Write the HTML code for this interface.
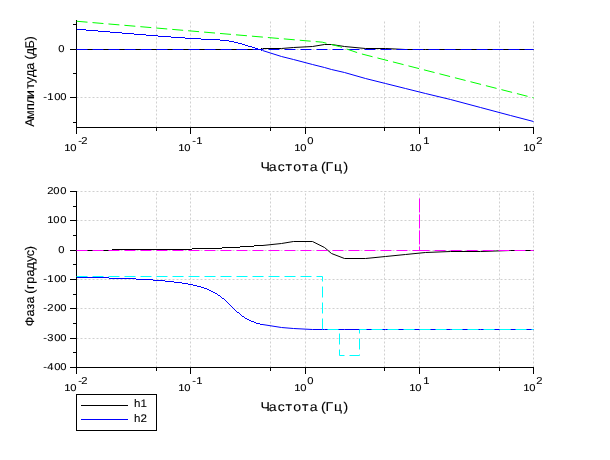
<!DOCTYPE html><html><head><meta charset="utf-8"><style>html,body{margin:0;padding:0;background:#fff;overflow:hidden}svg{display:block;will-change:transform}text{font-family:"Liberation Sans",sans-serif;text-rendering:geometricPrecision;stroke:#000;stroke-width:0.1px}</style></head><body>
<svg width="610" height="460" viewBox="0 0 610 460">
<rect width="610" height="460" fill="#fff"/>
<path d="M190.5,127.5V20M305.5,127.5V20M419.5,127.5V20M533.5,127.5V20M156.5,127.5V20M270.5,127.5V20M384.5,127.5V20M499.5,127.5V20M76.5,49.5H534M76.5,97.5H534" stroke="#d0d0d0" stroke-width="1" stroke-dasharray="2 2" fill="none"/>
<path d="M190.5,367.5V191M305.5,367.5V191M419.5,367.5V191M533.5,367.5V191M156.5,367.5V191M270.5,367.5V191M384.5,367.5V191M499.5,367.5V191M76.5,191.5H534M76.5,220.5H534M76.5,250.5H534M76.5,279.5H534M76.5,308.5H534M76.5,338.5H534" stroke="#d0d0d0" stroke-width="1" stroke-dasharray="2 2" fill="none"/>
<path d="M76.5,20V128M76,127.5H534M70,49.5H77M70,97.5H77M73,24.5H77M73,73.5H77M73,122.5H77M76.5,127V134M190.5,127V134M305.5,127V134M419.5,127V134M533.5,127V134M156.5,127V131M270.5,127V131M384.5,127V131M499.5,127V131" stroke="#000" stroke-width="1" fill="none" shape-rendering="crispEdges"/>
<path d="M76.5,191V368M76,367.5H534M70,191.5H77M70,220.5H77M70,250.5H77M70,279.5H77M70,308.5H77M70,338.5H77M70,367.5H77M73,206.5H77M73,235.5H77M73,264.5H77M73,294.5H77M73,323.5H77M73,352.5H77M76.5,367V374M190.5,367V374M305.5,367V374M419.5,367V374M533.5,367V374M156.5,367V371M270.5,367V371M384.5,367V371M499.5,367V371" stroke="#000" stroke-width="1" fill="none" shape-rendering="crispEdges"/>
<polyline points="76.50,49.50 77.50,49.50 78.50,49.50 79.50,49.50 80.50,49.50 81.50,49.50 82.50,49.50 83.50,49.50 84.50,49.50 85.50,49.50 86.50,49.50 87.50,49.50 88.50,49.50 89.50,49.50 90.50,49.50 91.50,49.50 92.50,49.50 93.50,49.50 94.50,49.50 95.50,49.50 96.50,49.50 97.50,49.50 98.50,49.50 99.50,49.50 100.50,49.50 101.50,49.50 102.50,49.50 103.50,49.50 104.50,49.50 105.50,49.50 106.50,49.50 107.50,49.50 108.50,49.50 109.50,49.50 110.50,49.50 111.50,49.50 112.50,49.50 113.50,49.50 114.50,49.50 115.50,49.50 116.50,49.50 117.50,49.50 118.50,49.50 119.50,49.50 120.50,49.50 121.50,49.50 122.50,49.50 123.50,49.50 124.50,49.50 125.50,49.50 126.50,49.50 127.50,49.50 128.50,49.50 129.50,49.50 130.50,49.50 131.50,49.50 132.50,49.50 133.50,49.50 134.50,49.50 135.50,49.50 136.50,49.50 137.50,49.50 138.50,49.50 139.50,49.50 140.50,49.50 141.50,49.50 142.50,49.50 143.50,49.50 144.50,49.50 145.50,49.50 146.50,49.50 147.50,49.50 148.50,49.50 149.50,49.50 150.50,49.50 151.50,49.50 152.50,49.50 153.50,49.50 154.50,49.50 155.50,49.50 156.50,49.50 157.50,49.50 158.50,49.50 159.50,49.50 160.50,49.50 161.50,49.50 162.50,49.50 163.50,49.50 164.50,49.50 165.50,49.50 166.50,49.50 167.50,49.50 168.50,49.50 169.50,49.50 170.50,49.50 171.50,49.50 172.50,49.50 173.50,49.50 174.50,49.50 175.50,49.50 176.50,49.50 177.50,49.50 178.50,49.50 179.50,49.50 180.50,49.50 181.50,49.50 182.50,49.50 183.50,49.50 184.50,49.50 185.50,49.50 186.50,49.50 187.50,49.50 188.50,49.50 189.50,49.50 190.50,49.50 191.50,49.50 192.50,49.50 193.50,49.50 194.50,49.50 195.50,49.50 196.50,49.50 197.50,49.50 198.50,49.50 199.50,49.50 200.50,49.50 201.50,49.50 202.50,49.50 203.50,49.50 204.50,49.50 205.50,49.50 206.50,49.50 207.50,49.50 208.50,49.50 209.50,49.50 210.50,49.50 211.50,49.50 212.50,49.50 213.50,49.50 214.50,49.50 215.50,49.50 216.50,49.50 217.50,49.50 218.50,49.50 219.50,49.50 220.50,49.50 221.50,49.50 222.50,49.50 223.50,49.50 224.50,49.50 225.50,49.50 226.50,49.50 227.50,49.50 228.50,49.50 229.50,49.50 230.50,49.50 231.50,49.50 232.50,49.50 233.50,49.50 234.50,49.50 235.50,49.50 236.50,49.50 237.50,49.50 238.50,49.50 239.50,49.50 240.50,49.50 241.50,49.50 242.50,49.50 243.50,49.50 244.50,49.50 245.50,49.50 246.50,49.50 247.50,49.50 248.50,49.50 249.50,49.50 250.50,49.50 251.50,49.50 252.50,49.50 253.50,49.50 254.50,49.50 255.50,49.50 256.50,49.50 257.50,49.50 258.50,49.50 259.50,49.50 260.50,49.50 262.50,48.50" stroke="#000" stroke-width="1" fill="none" shape-rendering="crispEdges"/>
<polyline points="262.50,48.50 281.50,48.50 293.50,47.50 312.50,46.50 324.50,44.50 331.50,44.50 344.50,46.50 365.50,48.50 385.50,48.50 405.50,49.50 425.50,49.50 450.50,49.50 480.50,49.50 510.50,49.50 533.50,49.50" stroke="#000" stroke-width="1" fill="none"/>
<polyline points="76.50,29.50 77.50,29.50 78.50,29.50 79.50,29.50 80.50,29.50 81.50,29.50 82.50,29.50 83.50,29.50 84.50,29.50 85.50,29.50 86.50,30.50 87.50,30.50 88.50,30.50 89.50,30.50 90.50,30.50 91.50,30.50 92.50,30.50 93.50,30.50 94.50,30.50 95.50,30.50 96.50,30.50 97.50,30.50 98.50,31.50 99.50,31.50 100.50,31.50 101.50,31.50 102.50,31.50 103.50,31.50 104.50,31.50 105.50,31.50 106.50,31.50 107.50,31.50 108.50,31.50 109.50,31.50 110.50,32.50 111.50,32.50 112.50,32.50 113.50,32.50 114.50,32.50 115.50,32.50 116.50,32.50 117.50,32.50 118.50,32.50 119.50,32.50 120.50,32.50 121.50,32.50 122.50,33.50 123.50,33.50 124.50,33.50 125.50,33.50 126.50,33.50 127.50,33.50 128.50,33.50 129.50,33.50 130.50,33.50 131.50,33.50 132.50,33.50 133.50,33.50 134.50,34.50 135.50,34.50 136.50,34.50 137.50,34.50 138.50,34.50 139.50,34.50 140.50,34.50 141.50,34.50 142.50,34.50 143.50,34.50 144.50,34.50 145.50,34.50 146.50,35.50 147.50,35.50 148.50,35.50 149.50,35.50 150.50,35.50 151.50,35.50 152.50,35.50 153.50,35.50 154.50,35.50 155.50,35.50 156.50,35.50 157.50,35.50 158.50,36.50 159.50,36.50 160.50,36.50 161.50,36.50 162.50,36.50 163.50,36.50 164.50,36.50 165.50,36.50 166.50,36.50 167.50,36.50 168.50,36.50 169.50,36.50 170.50,36.50 171.50,37.50 172.50,37.50 173.50,37.50 174.50,37.50 175.50,37.50 176.50,37.50 177.50,37.50 178.50,37.50 179.50,37.50 180.50,37.50 181.50,37.50 182.50,37.50 183.50,37.50 184.50,37.50 185.50,38.50 186.50,38.50 187.50,38.50 188.50,38.50 189.50,38.50 190.50,38.50 191.50,38.50 192.50,38.50 193.50,38.50 194.50,38.50 195.50,38.50 196.50,38.50 197.50,38.50 198.50,38.50 199.50,38.50 200.50,38.50 201.50,39.50 202.50,39.50 203.50,39.50 204.50,39.50 205.50,39.50 206.50,39.50 207.50,39.50 208.50,39.50 209.50,39.50 210.50,39.50 211.50,39.50 212.50,39.50 213.50,39.50 214.50,39.50 215.50,39.50 216.50,39.50 217.50,39.50 218.50,39.50 219.50,39.50 220.50,40.50 221.50,40.50 222.50,40.50 223.50,40.50 224.50,40.50 225.50,40.50 226.50,40.50 227.50,40.50 228.50,40.50 229.50,41.50 230.50,41.50 231.50,41.50 232.50,41.50 233.50,41.50 234.50,42.50 235.50,42.50 236.50,42.50 237.50,42.50 238.50,43.50 239.50,43.50 240.50,43.50 241.50,43.50 242.50,44.50 243.50,44.50 244.50,44.50 245.50,45.50 246.50,45.50 247.50,45.50 248.50,46.50 249.50,46.50 250.50,46.50 251.50,46.50 252.50,47.50 253.50,47.50 254.50,47.50 255.50,48.50 256.50,48.50 257.50,48.50 258.50,49.50 259.50,49.50 260.50,49.50 262.50,50.50" stroke="#00f" stroke-width="1" fill="none" shape-rendering="crispEdges"/>
<polyline points="262.50,50.50 281.50,56.50 293.50,59.50 312.50,64.50 324.50,67.50 331.50,69.50 344.50,72.50 365.50,78.50 385.50,83.50 405.50,88.50 425.50,93.50 450.50,99.50 480.50,107.50 510.50,115.50 533.50,121.50" stroke="#00f" stroke-width="1" fill="none"/>
<polyline points="76.50,49.50 533.50,49.50" stroke="#00f" stroke-width="1" fill="none" stroke-dasharray="11 5"/>
<polyline points="76.55,21.24 322.25,42.16 339.44,46.55 359.56,53.40 533.55,97.84" stroke="#0f0" stroke-width="1" fill="none" stroke-dasharray="11 5"/>
<polyline points="76.50,250.50 77.50,250.50 78.50,250.50 79.50,250.50 80.50,250.50 81.50,250.50 82.50,250.50 83.50,250.50 84.50,250.50 85.50,250.50 86.50,250.50 87.50,250.50 88.50,250.50 89.50,250.50 90.50,250.50 91.50,250.50 92.50,250.50 93.50,250.50 94.50,250.50 95.50,250.50 96.50,250.50 97.50,250.50 98.50,250.50 99.50,250.50 100.50,250.50 101.50,250.50 102.50,250.50 103.50,250.50 104.50,250.50 105.50,250.50 106.50,250.50 107.50,250.50 108.50,250.50 109.50,250.50 110.50,250.50 111.50,250.50 112.50,249.50 113.50,249.50 114.50,249.50 115.50,249.50 116.50,249.50 117.50,249.50 118.50,249.50 119.50,249.50 120.50,249.50 121.50,249.50 122.50,249.50 123.50,249.50 124.50,249.50 125.50,249.50 126.50,249.50 127.50,249.50 128.50,249.50 129.50,249.50 130.50,249.50 131.50,249.50 132.50,249.50 133.50,249.50 134.50,249.50 135.50,249.50 136.50,249.50 137.50,249.50 138.50,249.50 139.50,249.50 140.50,249.50 141.50,249.50 142.50,249.50 143.50,249.50 144.50,249.50 145.50,249.50 146.50,249.50 147.50,249.50 148.50,249.50 149.50,249.50 150.50,249.50 151.50,249.50 152.50,249.50 153.50,249.50 154.50,249.50 155.50,249.50 156.50,249.50 157.50,249.50 158.50,249.50 159.50,249.50 160.50,249.50 161.50,249.50 162.50,249.50 163.50,249.50 164.50,249.50 165.50,249.50 166.50,249.50 167.50,249.50 168.50,249.50 169.50,249.50 170.50,249.50 171.50,249.50 172.50,249.50 173.50,249.50 174.50,249.50 175.50,249.50 176.50,249.50 177.50,249.50 178.50,249.50 179.50,249.50 180.50,249.50 181.50,249.50 182.50,249.50 183.50,249.50 184.50,249.50 185.50,249.50 186.50,249.50 187.50,249.50 188.50,249.50 189.50,249.50 190.50,249.50 191.50,249.50 192.50,248.50 193.50,248.50 194.50,248.50 195.50,248.50 196.50,248.50 197.50,248.50 198.50,248.50 199.50,248.50 200.50,248.50 201.50,248.50 202.50,248.50 203.50,248.50 204.50,248.50 205.50,248.50 206.50,248.50 207.50,248.50 208.50,248.50 209.50,248.50 210.50,248.50 211.50,248.50 212.50,248.50 213.50,248.50 214.50,248.50 215.50,248.50 216.50,248.50 217.50,248.50 218.50,248.50 219.50,248.50 220.50,248.50 221.50,248.50 222.50,247.50 223.50,247.50 224.50,247.50 225.50,247.50 226.50,247.50 227.50,247.50 228.50,247.50 229.50,247.50 230.50,247.50 231.50,247.50 232.50,247.50 233.50,247.50 234.50,247.50 235.50,247.50 236.50,247.50 237.50,247.50 238.50,247.50 239.50,247.50 240.50,246.50 241.50,246.50 242.50,246.50 243.50,246.50 244.50,246.50 245.50,246.50 246.50,246.50 247.50,246.50 248.50,246.50 249.50,246.50 250.50,246.50 251.50,246.50 252.50,246.50 253.50,246.50 254.50,245.50 255.50,245.50 256.50,245.50 257.50,245.50 258.50,245.50 259.50,245.50 260.50,245.50 262.50,245.50" stroke="#000" stroke-width="1" fill="none" shape-rendering="crispEdges"/>
<polyline points="262.50,245.50 281.50,243.50 293.50,241.50 312.50,241.50 324.50,247.50 331.50,253.50 344.50,258.50 365.50,258.50 385.50,256.50 405.50,254.50 425.50,252.50 450.50,251.50 480.50,251.50 510.50,250.50 533.50,250.50" stroke="#000" stroke-width="1" fill="none"/>
<polyline points="76.50,277.50 77.50,277.50 78.50,277.50 79.50,277.50 80.50,277.50 81.50,277.50 82.50,277.50 83.50,277.50 84.50,277.50 85.50,277.50 86.50,277.50 87.50,277.50 88.50,277.50 89.50,277.50 90.50,277.50 91.50,277.50 92.50,277.50 93.50,277.50 94.50,277.50 95.50,277.50 96.50,277.50 97.50,277.50 98.50,277.50 99.50,277.50 100.50,277.50 101.50,277.50 102.50,277.50 103.50,277.50 104.50,277.50 105.50,277.50 106.50,277.50 107.50,277.50 108.50,277.50 109.50,278.50 110.50,278.50 111.50,278.50 112.50,278.50 113.50,278.50 114.50,278.50 115.50,278.50 116.50,278.50 117.50,278.50 118.50,278.50 119.50,278.50 120.50,278.50 121.50,278.50 122.50,278.50 123.50,278.50 124.50,278.50 125.50,278.50 126.50,278.50 127.50,278.50 128.50,278.50 129.50,278.50 130.50,278.50 131.50,278.50 132.50,278.50 133.50,278.50 134.50,278.50 135.50,278.50 136.50,279.50 137.50,279.50 138.50,279.50 139.50,279.50 140.50,279.50 141.50,279.50 142.50,279.50 143.50,279.50 144.50,279.50 145.50,279.50 146.50,279.50 147.50,279.50 148.50,279.50 149.50,279.50 150.50,279.50 151.50,279.50 152.50,279.50 153.50,280.50 154.50,280.50 155.50,280.50 156.50,280.50 157.50,280.50 158.50,280.50 159.50,280.50 160.50,280.50 161.50,280.50 162.50,280.50 163.50,280.50 164.50,280.50 165.50,281.50 166.50,281.50 167.50,281.50 168.50,281.50 169.50,281.50 170.50,281.50 171.50,281.50 172.50,281.50 173.50,281.50 174.50,282.50 175.50,282.50 176.50,282.50 177.50,282.50 178.50,282.50 179.50,282.50 180.50,282.50 181.50,282.50 182.50,283.50 183.50,283.50 184.50,283.50 185.50,283.50 186.50,283.50 187.50,283.50 188.50,284.50 189.50,284.50 190.50,284.50 191.50,284.50 192.50,284.50 193.50,285.50 194.50,285.50 195.50,285.50 196.50,285.50 197.50,286.50 198.50,286.50 199.50,286.50 200.50,286.50 201.50,287.50 202.50,287.50 203.50,287.50 204.50,288.50 205.50,288.50 206.50,288.50 207.50,289.50 208.50,289.50 209.50,290.50 210.50,290.50 211.50,291.50 212.50,291.50 213.50,292.50 214.50,292.50 215.50,293.50 216.50,293.50 217.50,294.50 218.50,295.50 219.50,295.50 220.50,296.50 221.50,297.50 222.50,298.50 223.50,298.50 224.50,299.50 225.50,300.50 226.50,301.50 227.50,302.50 228.50,303.50 229.50,304.50 230.50,305.50 231.50,306.50 232.50,307.50 233.50,308.50 234.50,309.50 235.50,310.50 236.50,311.50 237.50,312.50 238.50,312.50 239.50,313.50 240.50,314.50 241.50,315.50 242.50,316.50 243.50,316.50 244.50,317.50 245.50,318.50 246.50,318.50 247.50,319.50 248.50,319.50 249.50,320.50 250.50,320.50 251.50,321.50 252.50,321.50 253.50,321.50 254.50,322.50 255.50,322.50 256.50,323.50 257.50,323.50 258.50,323.50 259.50,323.50 260.50,324.50 262.50,324.50" stroke="#00f" stroke-width="1" fill="none" shape-rendering="crispEdges"/>
<polyline points="262.50,324.50 281.50,327.50 293.50,328.50 312.50,329.50 324.50,329.50 331.50,329.50 344.50,329.50 365.50,329.50 385.50,329.50 405.50,329.50 425.50,329.50 450.50,329.50 480.50,329.50 510.50,329.50 533.50,329.50" stroke="#00f" stroke-width="1" fill="none"/>
<polyline points="76.50,250.50 419.50,250.50 419.50,197.50 419.50,250.50 533.50,250.50" stroke="#f0f" stroke-width="1" fill="none" stroke-dasharray="11 5"/>
<polyline points="76.50,276.50 322.50,276.50 322.50,329.50 339.50,329.50 339.50,355.50 359.50,355.50 359.50,329.50 533.50,329.50" stroke="#0ff" stroke-width="1" fill="none" stroke-dasharray="11 5"/>
<text transform="translate(58.25,52) scale(1.12,1)" font-size="10">0</text>
<text transform="translate(43.25,100) scale(1.12,1)" font-size="10">-</text>
<text transform="translate(47.25,100) scale(1.12,1)" font-size="10">1</text>
<text transform="translate(54.25,100) scale(1.12,1)" font-size="10">0</text>
<text transform="translate(60.25,100) scale(1.12,1)" font-size="10">0</text>
<text transform="translate(47.25,194) scale(1.12,1)" font-size="10">2</text>
<text transform="translate(53.25,194) scale(1.12,1)" font-size="10">0</text>
<text transform="translate(60.25,194) scale(1.12,1)" font-size="10">0</text>
<text transform="translate(47.25,223) scale(1.12,1)" font-size="10">1</text>
<text transform="translate(53.25,223) scale(1.12,1)" font-size="10">0</text>
<text transform="translate(60.25,223) scale(1.12,1)" font-size="10">0</text>
<text transform="translate(58.25,253) scale(1.12,1)" font-size="10">0</text>
<text transform="translate(43.25,282) scale(1.12,1)" font-size="10">-</text>
<text transform="translate(47.25,282) scale(1.12,1)" font-size="10">1</text>
<text transform="translate(54.25,282) scale(1.12,1)" font-size="10">0</text>
<text transform="translate(60.25,282) scale(1.12,1)" font-size="10">0</text>
<text transform="translate(43.25,311) scale(1.12,1)" font-size="10">-</text>
<text transform="translate(47.25,311) scale(1.12,1)" font-size="10">2</text>
<text transform="translate(54.25,311) scale(1.12,1)" font-size="10">0</text>
<text transform="translate(60.25,311) scale(1.12,1)" font-size="10">0</text>
<text transform="translate(43.25,341) scale(1.12,1)" font-size="10">-</text>
<text transform="translate(47.25,341) scale(1.12,1)" font-size="10">3</text>
<text transform="translate(54.25,341) scale(1.12,1)" font-size="10">0</text>
<text transform="translate(60.25,341) scale(1.12,1)" font-size="10">0</text>
<text transform="translate(43.25,370) scale(1.12,1)" font-size="10">-</text>
<text transform="translate(47.25,370) scale(1.12,1)" font-size="10">4</text>
<text transform="translate(54.25,370) scale(1.12,1)" font-size="10">0</text>
<text transform="translate(60.25,370) scale(1.12,1)" font-size="10">0</text>
<text transform="translate(64.25,151) scale(1.12,1)" font-size="10">1</text>
<text transform="translate(70.25,151) scale(1.12,1)" font-size="10">0</text>
<text transform="translate(78.25,144) scale(1.12,1)" font-size="10">-</text>
<text transform="translate(81.25,144) scale(1.12,1)" font-size="10">2</text>
<text transform="translate(178.25,151) scale(1.12,1)" font-size="10">1</text>
<text transform="translate(184.25,151) scale(1.12,1)" font-size="10">0</text>
<text transform="translate(192.25,144) scale(1.12,1)" font-size="10">-</text>
<text transform="translate(196.25,144) scale(1.12,1)" font-size="10">1</text>
<text transform="translate(294.25,151) scale(1.12,1)" font-size="10">1</text>
<text transform="translate(300.25,151) scale(1.12,1)" font-size="10">0</text>
<text transform="translate(307.25,144) scale(1.12,1)" font-size="10">0</text>
<text transform="translate(409.25,151) scale(1.12,1)" font-size="10">1</text>
<text transform="translate(415.25,151) scale(1.12,1)" font-size="10">0</text>
<text transform="translate(423.25,144) scale(1.12,1)" font-size="10">1</text>
<text transform="translate(523.25,151) scale(1.12,1)" font-size="10">1</text>
<text transform="translate(529.25,151) scale(1.12,1)" font-size="10">0</text>
<text transform="translate(536.25,144) scale(1.12,1)" font-size="10">2</text>
<text transform="translate(260.38,171) scale(1.12,1)" font-size="12.6">Ч</text>
<text transform="translate(268.63,171) scale(1.12,1)" font-size="12.6">а</text>
<text transform="translate(277.67,171) scale(1.12,1)" font-size="12.6">с</text>
<text transform="translate(285.38,171) scale(1.12,1)" font-size="12.6">т</text>
<text transform="translate(293.24,171) scale(1.12,1)" font-size="12.6">о</text>
<text transform="translate(302.03,171) scale(1.12,1)" font-size="12.6">т</text>
<text transform="translate(309.83,171) scale(1.12,1)" font-size="12.6">а</text>
<text transform="translate(321.07,171) scale(1.12,1)" font-size="12.6">(</text>
<text transform="translate(325.46,171) scale(1.12,1)" font-size="12.6">Г</text>
<text transform="translate(333.99,171) scale(1.12,1)" font-size="12.6">ц</text>
<text transform="translate(343.38,171) scale(1.12,1)" font-size="12.6">)</text>
<text transform="translate(64.25,391) scale(1.12,1)" font-size="10">1</text>
<text transform="translate(70.25,391) scale(1.12,1)" font-size="10">0</text>
<text transform="translate(78.25,384) scale(1.12,1)" font-size="10">-</text>
<text transform="translate(81.25,384) scale(1.12,1)" font-size="10">2</text>
<text transform="translate(178.25,391) scale(1.12,1)" font-size="10">1</text>
<text transform="translate(184.25,391) scale(1.12,1)" font-size="10">0</text>
<text transform="translate(192.25,384) scale(1.12,1)" font-size="10">-</text>
<text transform="translate(196.25,384) scale(1.12,1)" font-size="10">1</text>
<text transform="translate(294.25,391) scale(1.12,1)" font-size="10">1</text>
<text transform="translate(300.25,391) scale(1.12,1)" font-size="10">0</text>
<text transform="translate(307.25,384) scale(1.12,1)" font-size="10">0</text>
<text transform="translate(409.25,391) scale(1.12,1)" font-size="10">1</text>
<text transform="translate(415.25,391) scale(1.12,1)" font-size="10">0</text>
<text transform="translate(423.25,384) scale(1.12,1)" font-size="10">1</text>
<text transform="translate(523.25,391) scale(1.12,1)" font-size="10">1</text>
<text transform="translate(529.25,391) scale(1.12,1)" font-size="10">0</text>
<text transform="translate(536.25,384) scale(1.12,1)" font-size="10">2</text>
<text transform="translate(260.38,411) scale(1.12,1)" font-size="12.6">Ч</text>
<text transform="translate(268.63,411) scale(1.12,1)" font-size="12.6">а</text>
<text transform="translate(277.67,411) scale(1.12,1)" font-size="12.6">с</text>
<text transform="translate(285.38,411) scale(1.12,1)" font-size="12.6">т</text>
<text transform="translate(293.24,411) scale(1.12,1)" font-size="12.6">о</text>
<text transform="translate(302.03,411) scale(1.12,1)" font-size="12.6">т</text>
<text transform="translate(309.83,411) scale(1.12,1)" font-size="12.6">а</text>
<text transform="translate(321.07,411) scale(1.12,1)" font-size="12.6">(</text>
<text transform="translate(325.46,411) scale(1.12,1)" font-size="12.6">Г</text>
<text transform="translate(333.99,411) scale(1.12,1)" font-size="12.6">ц</text>
<text transform="translate(343.38,411) scale(1.12,1)" font-size="12.6">)</text>
<text transform="translate(34,126.68) rotate(-90) scale(1.0,1)" font-size="12.6">А</text>
<text transform="translate(34,119.04) rotate(-90) scale(1.0,1)" font-size="12.6">м</text>
<text transform="translate(34,110.11) rotate(-90) scale(1.0,1)" font-size="12.6">п</text>
<text transform="translate(34,103.59) rotate(-90) scale(1.0,1)" font-size="12.6">л</text>
<text transform="translate(34,97.27) rotate(-90) scale(1.0,1)" font-size="12.6">и</text>
<text transform="translate(34,88.82) rotate(-90) scale(1.0,1)" font-size="12.6">т</text>
<text transform="translate(34,83.20) rotate(-90) scale(1.0,1)" font-size="12.6">у</text>
<text transform="translate(34,76.92) rotate(-90) scale(1.0,1)" font-size="12.6">д</text>
<text transform="translate(34,69.67) rotate(-90) scale(1.0,1)" font-size="12.6">а</text>
<text transform="translate(34,59.50) rotate(-90) scale(1.0,1)" font-size="12.6">(</text>
<text transform="translate(34,55.17) rotate(-90) scale(1.0,1)" font-size="12.6">д</text>
<text transform="translate(34,48.52) rotate(-90) scale(1.0,1)" font-size="12.6">Б</text>
<text transform="translate(34,40.44) rotate(-90) scale(1.0,1)" font-size="12.6">)</text>
<text transform="translate(34,326.30) rotate(-90) scale(1.0,1)" font-size="12.6">Ф</text>
<text transform="translate(34,316.57) rotate(-90) scale(1.0,1)" font-size="12.6">а</text>
<text transform="translate(34,309.44) rotate(-90) scale(1.0,1)" font-size="12.6">з</text>
<text transform="translate(34,303.48) rotate(-90) scale(1.0,1)" font-size="12.6">а</text>
<text transform="translate(34,293.64) rotate(-90) scale(1.0,1)" font-size="12.6">(</text>
<text transform="translate(34,288.88) rotate(-90) scale(1.0,1)" font-size="12.6">г</text>
<text transform="translate(34,283.87) rotate(-90) scale(1.0,1)" font-size="12.6">р</text>
<text transform="translate(34,276.48) rotate(-90) scale(1.0,1)" font-size="12.6">а</text>
<text transform="translate(34,269.43) rotate(-90) scale(1.0,1)" font-size="12.6">д</text>
<text transform="translate(34,262.00) rotate(-90) scale(1.0,1)" font-size="12.6">у</text>
<text transform="translate(34,256.25) rotate(-90) scale(1.0,1)" font-size="12.6">с</text>
<text transform="translate(34,250.29) rotate(-90) scale(1.0,1)" font-size="12.6">)</text>
<rect x="76.5" y="394.5" width="80" height="36" fill="#fff" stroke="#000" stroke-width="1" shape-rendering="crispEdges"/>
<path d="M81,405.5H128" stroke="#000" shape-rendering="crispEdges"/>
<path d="M81,419.5H128" stroke="#00f" shape-rendering="crispEdges"/>
<text transform="translate(134,407) scale(1.05,1)" font-size="11">h1</text>
<text transform="translate(134,422) scale(1.05,1)" font-size="11">h2</text>
</svg></body></html>
